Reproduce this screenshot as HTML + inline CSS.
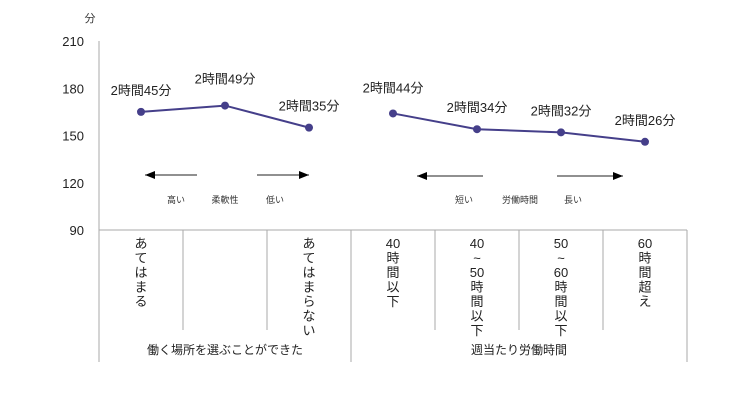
<!DOCTYPE html>
<html><head><meta charset="utf-8"><style>
body{margin:0;background:#fff;}
svg{font-family:"Liberation Sans","Noto Sans CJK JP",sans-serif;}
</style></head><body>
<svg id="chart" width="750" height="400"></svg>
<script>
const categories=["あてはまる","","あてはまらない","40時間以下","40～50時間以下","50～60時間以下","60時間超え"];
const catLines=[["あ","て","は","ま","る"],[],["あ","て","は","ま","ら","な","い"],["40","時","間","以","下"],["40","~","50","時","間","以","下"],["50","~","60","時","間","以","下"],["60","時","間","超","え"]];
const series1=[165,169,155];
const series2=[164,154,152,146];
const labels1=["2時間45分","2時間49分","2時間35分"];
const labels2=["2時間44分","2時間34分","2時間32分","2時間26分"];
const yTicks=[90,120,150,180,210];
const NS="http://www.w3.org/2000/svg";
const svg=document.getElementById('chart');
const x0=99,colW=84,yTop=41,yBot=230;
const y=v=>yBot-(v-90)/120*(yBot-yTop);
const xc=i=>x0+colW*i+colW/2;
function mk(t,a,txt){const e=document.createElementNS(NS,t);for(const k in a)e.setAttribute(k,a[k]);if(txt!==undefined)e.textContent=txt;svg.appendChild(e);return e;}
let e;
e=mk('text',{x:90,y:22,'font-size':11,fill:'#333','text-anchor':'middle'},'分');

yTicks.forEach(t=>{e=mk('text',{x:84,y:y(t)+5,'font-size':13,fill:'#222','text-anchor':'end'},String(t));
});
e=mk('line',{x1:x0,y1:yTop,x2:x0,y2:362,stroke:'#aaa'});

e=mk('line',{x1:x0,y1:yBot,x2:x0+colW*7,y2:yBot,stroke:'#aaa'});

for(let i=1;i<=7;i++){const full=(i===3||i===7);
e=mk('line',{x1:x0+colW*i,y1:yBot,x2:x0+colW*i,y2:full?362:330,stroke:'#aaa'});
}
catLines.forEach((ls,i)=>{ls.forEach((s,j)=>{e=mk('text',{x:xc(i),y:248+j*14.5,'font-size':13,fill:'#222','text-anchor':'middle'},s);
});});
e=mk('text',{x:x0+colW*1.5,y:354,'font-size':12,fill:'#222','text-anchor':'middle'},'働く場所を選ぶことができた');

e=mk('text',{x:x0+colW*5,y:354,'font-size':12,fill:'#222','text-anchor':'middle'},'週当たり労働時間');

function arrow(x1,x2,yy){e=mk('line',{x1:x1,y1:yy,x2:x2,y2:yy,stroke:'#222'});
const d=x2>x1?1:-1;e=mk('polygon',{points:`${x2},${yy} ${x2-d*10},${yy-4} ${x2-d*10},${yy+4}`,fill:'#000'});}
arrow(197,145,175);arrow(257,309,175);arrow(483,417,176);arrow(557,623,176);
[["高い",176],["柔軟性",225],["低い",275],["短い",464],["労働時間",520],["長い",573]].forEach(([t,xx])=>{
e=mk('text',{x:xx,y:203,'font-size':9,fill:'#333','text-anchor':'middle'},t);});
function drawSeries(vals,labs,off,name,lOff){
const pts=vals.map((v,i)=>xc(i+off)+','+y(v)).join(' ');
e=mk('polyline',{points:pts,fill:'none',stroke:'#453f8a','stroke-width':2});
vals.forEach((v,i)=>{e=mk('circle',{cx:xc(i+off),cy:y(v),r:4,fill:'#453f8a'});
e=mk('text',{x:xc(i+off),y:y(v)-lOff[i],'font-size':13,fill:'#222','text-anchor':'middle'},labs[i]);});}
drawSeries(series1,labels1,0,'flexibility-series',[17,22,17]);
drawSeries(series2,labels2,3,'hours-series',[21,17,17,17]);
</script>
</body></html>
